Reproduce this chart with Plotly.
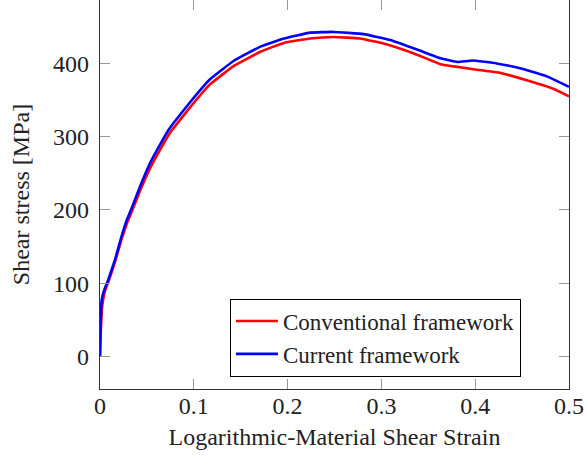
import plotly.graph_objects as go

strain_conv = [0, 0.0007, 0.0025, 0.005, 0.009, 0.016, 0.023, 0.0285, 0.033, 0.0427, 0.0534,
               0.064, 0.073, 0.078, 0.096, 0.117, 0.142, 0.171, 0.196, 0.224, 0.249, 0.277,
               0.306, 0.334, 0.363, 0.377, 0.398, 0.427, 0.455, 0.484, 0.5]
stress_conv = [0, 30, 70, 88, 102, 129, 160, 181, 195, 226, 257,
               282, 302, 311, 340, 371, 396, 416, 428, 434, 436, 434,
               426, 414, 399, 396, 392, 387, 377, 365, 355]

strain_curr = [0, 0.0007, 0.0018, 0.0046, 0.0089, 0.016, 0.023, 0.0285, 0.033, 0.0427, 0.0534,
               0.064, 0.073, 0.078, 0.096, 0.117, 0.142, 0.171, 0.196, 0.224, 0.249, 0.281,
               0.3095, 0.338, 0.363, 0.381, 0.397, 0.423, 0.452, 0.477, 0.5]
stress_curr = [0, 50, 77, 91, 105, 132, 164, 186, 200, 232, 264,
               289, 309, 318, 347, 378, 403, 423, 434, 442, 443, 440,
               432, 419, 407, 402, 404, 400, 392, 382, 368]

x_ticks = [0, 0.1, 0.2, 0.3, 0.4, 0.5]
x_labels = ["0", "0.1", "0.2", "0.3", "0.4", "0.5"]
y_ticks = [0, 100, 200, 300, 400]

FONT = "Liberation Serif, DejaVu Serif, serif"
FS = 24

fig = go.Figure()
fig.add_trace(go.Scatter(x=strain_conv, y=stress_conv, mode="lines",
                         name="Conventional framework",
                         line=dict(color="#ff0000", width=2.6, shape="spline", smoothing=0.3)))
fig.add_trace(go.Scatter(x=strain_curr, y=stress_curr, mode="lines",
                         name="Current framework",
                         line=dict(color="#0000ff", width=2.6, shape="spline", smoothing=0.3)))

axis_common = dict(showline=True, linecolor="#333333", linewidth=1.3, mirror="allticks",
                   ticks="inside", ticklen=10, tickcolor="#999999", tickwidth=1,
                   showgrid=False, zeroline=False,
                   tickfont=dict(family=FONT, size=FS, color="#222222"))

fig.update_layout(
    width=587, height=459,
    margin=dict(l=100, r=18, t=0, b=70),
    paper_bgcolor="white", plot_bgcolor="white",
    font=dict(family=FONT, size=FS, color="#222222"),
    xaxis=dict(range=[0, 0.5], tickvals=x_ticks, ticktext=x_labels, ticklabelstandoff=-5,
               title=dict(text="Logarithmic-Material Shear Strain", font=dict(family=FONT, size=FS), standoff=10),
               **axis_common),
    yaxis=dict(range=[-44.6, 486.6], tickvals=y_ticks, ticklabelstandoff=5,
               title=dict(text="Shear stress [MPa]", font=dict(family=FONT, size=FS), standoff=16),
               **axis_common),
    legend=dict(x=0.277, y=0.032, xanchor="left", yanchor="bottom",
                bordercolor="#000000", borderwidth=1, bgcolor="white",
                font=dict(family=FONT, size=23, color="#222222"),
                tracegroupgap=0, itemwidth=42),
    showlegend=True,
)

fig.write_html("out.html")
